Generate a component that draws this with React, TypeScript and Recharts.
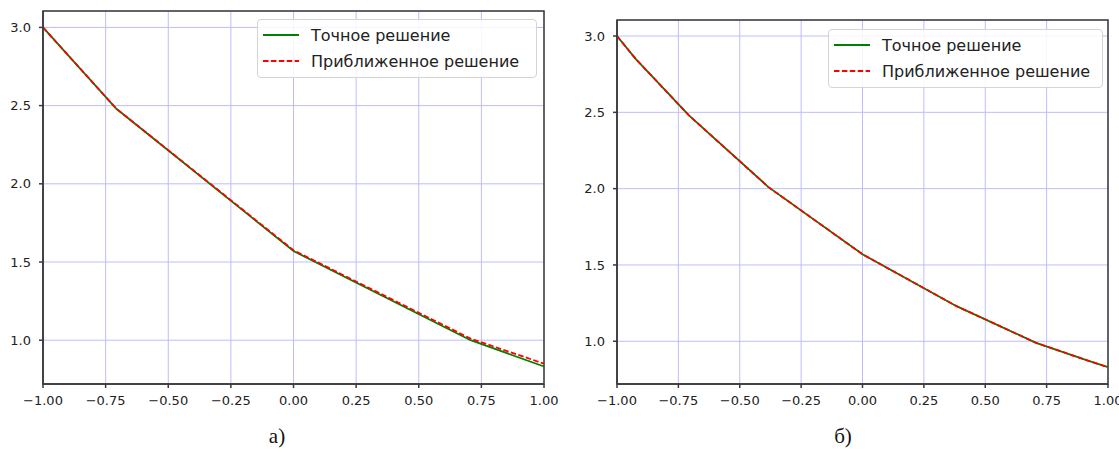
import * as React from "react"
import {
  CartesianGrid,
  Legend,
  Line,
  LineChart,
  ReferenceArea,
  XAxis,
  YAxis,
} from "recharts"

// панель а): узлы и значения
const leftX = [-1, -0.707, 0, 0.707, 1]
const leftExact = [3.0, 2.48, 1.57, 1.0, 0.832]
const leftApprox = [3.0, 2.48, 1.575, 1.01, 0.85]

// панель б): узлы и значения
const rightX = [-1, -0.924, -0.707, -0.383, 0, 0.383, 0.707, 0.924, 1]
const rightExact = [3.0, 2.85, 2.48, 2.01, 1.57, 1.23, 0.99, 0.87, 0.83]
const rightApprox = [3.0, 2.85, 2.48, 2.01, 1.57, 1.23, 0.99, 0.87, 0.83]

const xTicks = [-1, -0.75, -0.5, -0.25, 0, 0.25, 0.5, 0.75, 1]
const yTicks = [1.0, 1.5, 2.0, 2.5, 3.0]
const xDomain = [-1, 1]
const yDomain = [0.72, 3.105]
const seriesNames = ["Точное решение", "Приближенное решение"]
const panelLabels = ["а)", "б)"]

const GREEN = "#008000"
const RED = "#ff0000"
const FRAME = "#3a3a3a"
const GRID = "#bdbdfc"

const tickStyle = { fontFamily: "DejaVu Sans", fontSize: 13, fill: "#222" }

const fmtX = (v: number) => (v < 0 ? "\u2212" : "") + Math.abs(v).toFixed(2)
const fmtY = (v: number) => v.toFixed(1)

function buildRows(xs: number[], exact: number[], approx: number[]) {
  return xs.map((x, i) => ({ x, exact: exact[i], approx: approx[i] }))
}

function LegendBox({ width }: { width: number }) {
  const row = (label: string, color: string, dash?: string) => (
    <div style={{ display: "flex", alignItems: "center", height: 26 }}>
      <svg width={48} height={10} style={{ marginLeft: 5 }}>
        <line
          x1={0}
          y1={5}
          x2={36}
          y2={5}
          stroke={color}
          strokeWidth={1.8}
          strokeDasharray={dash}
        />
      </svg>
      <span style={{ fontFamily: "DejaVu Sans", fontSize: 16, color: "#222" }}>
        {label}
      </span>
    </div>
  )
  return (
    <div
      style={{
        width,
        boxSizing: "border-box",
        border: "1px solid #d4d4d4",
        borderRadius: 4,
        background: "rgba(255,255,255,0.85)",
        padding: "2px 0 3px 0",
      }}
    >
      {row(seriesNames[0], GREEN)}
      {row(seriesNames[1], RED, "5.5 2.4")}
    </div>
  )
}

interface PanelProps {
  rows: { x: number; exact: number; approx: number }[]
  width: number
  margin: { top: number; right: number; bottom: number; left: number }
  legendLeft: number
  legendTop: number
  legendWidth: number
}

function Panel({ rows, width, margin, legendLeft, legendTop, legendWidth }: PanelProps) {
  return (
    <LineChart width={width} height={420} data={rows} margin={margin}>
      <CartesianGrid stroke={GRID} strokeWidth={1} />
      <XAxis
        dataKey="x"
        type="number"
        domain={xDomain}
        ticks={xTicks}
        interval={0}
        tickFormatter={fmtX}
        height={30}
        tickSize={4}
        tickMargin={8}
        stroke={FRAME}
        strokeWidth={1.5}
        tick={tickStyle}
      />
      <YAxis
        type="number"
        domain={yDomain}
        allowDataOverflow
        ticks={yTicks}
        interval={0}
        tickFormatter={fmtY}
        width={43}
        tickSize={4}
        tickMargin={8}
        stroke={FRAME}
        strokeWidth={1.5}
        tick={tickStyle}
      />
      <ReferenceArea
        x1={xDomain[0]}
        x2={xDomain[1]}
        y1={yDomain[0]}
        y2={yDomain[1]}
        fill="none"
        fillOpacity={0}
        stroke={FRAME}
        strokeWidth={1.5}
        ifOverflow="visible"
      />
      <Line
        dataKey="exact"
        type="linear"
        stroke={GREEN}
        strokeWidth={1.8}
        dot={false}
        isAnimationActive={false}
      />
      <Line
        dataKey="approx"
        type="linear"
        stroke={RED}
        strokeWidth={1.8}
        strokeDasharray="5.5 2.4"
        dot={false}
        isAnimationActive={false}
      />
      <Legend
        layout="horizontal"
        verticalAlign="middle"
        align="center"
        wrapperStyle={{ left: legendLeft, top: legendTop, width: legendWidth }}
        content={() => <LegendBox width={legendWidth} />}
      />
    </LineChart>
  )
}

export default function App() {
  const leftRows = buildRows(leftX, leftExact, leftApprox)
  const rightRows = buildRows(rightX, rightExact, rightApprox)
  const labelStyle: React.CSSProperties = {
    position: "absolute",
    top: 424,
    fontFamily: "Liberation Serif",
    fontSize: 21,
    color: "#111",
    transform: "translateX(-50%)",
  }
  return (
    <div
      style={{
        position: "absolute",
        left: 0,
        top: 0,
        width: 1119,
        height: 452,
        background: "#fff",
        overflow: "hidden",
      }}
    >
      <div style={{ position: "absolute", left: 0, top: 0 }}>
        <Panel
          rows={leftRows}
          width={560}
          margin={{ top: 11, right: 16, bottom: 6, left: 0 }}
          legendLeft={257}
          legendTop={19}
          legendWidth={280}
        />
      </div>
      <div style={{ position: "absolute", left: 574, top: 0 }}>
        <Panel
          rows={rightRows}
          width={545}
          margin={{ top: 20, right: 11, bottom: 6, left: 0 }}
          legendLeft={254}
          legendTop={29}
          legendWidth={275}
        />
      </div>
      <div style={{ ...labelStyle, left: 277 }}>{panelLabels[0]}</div>
      <div style={{ ...labelStyle, left: 843 }}>{panelLabels[1]}</div>
    </div>
  )
}
